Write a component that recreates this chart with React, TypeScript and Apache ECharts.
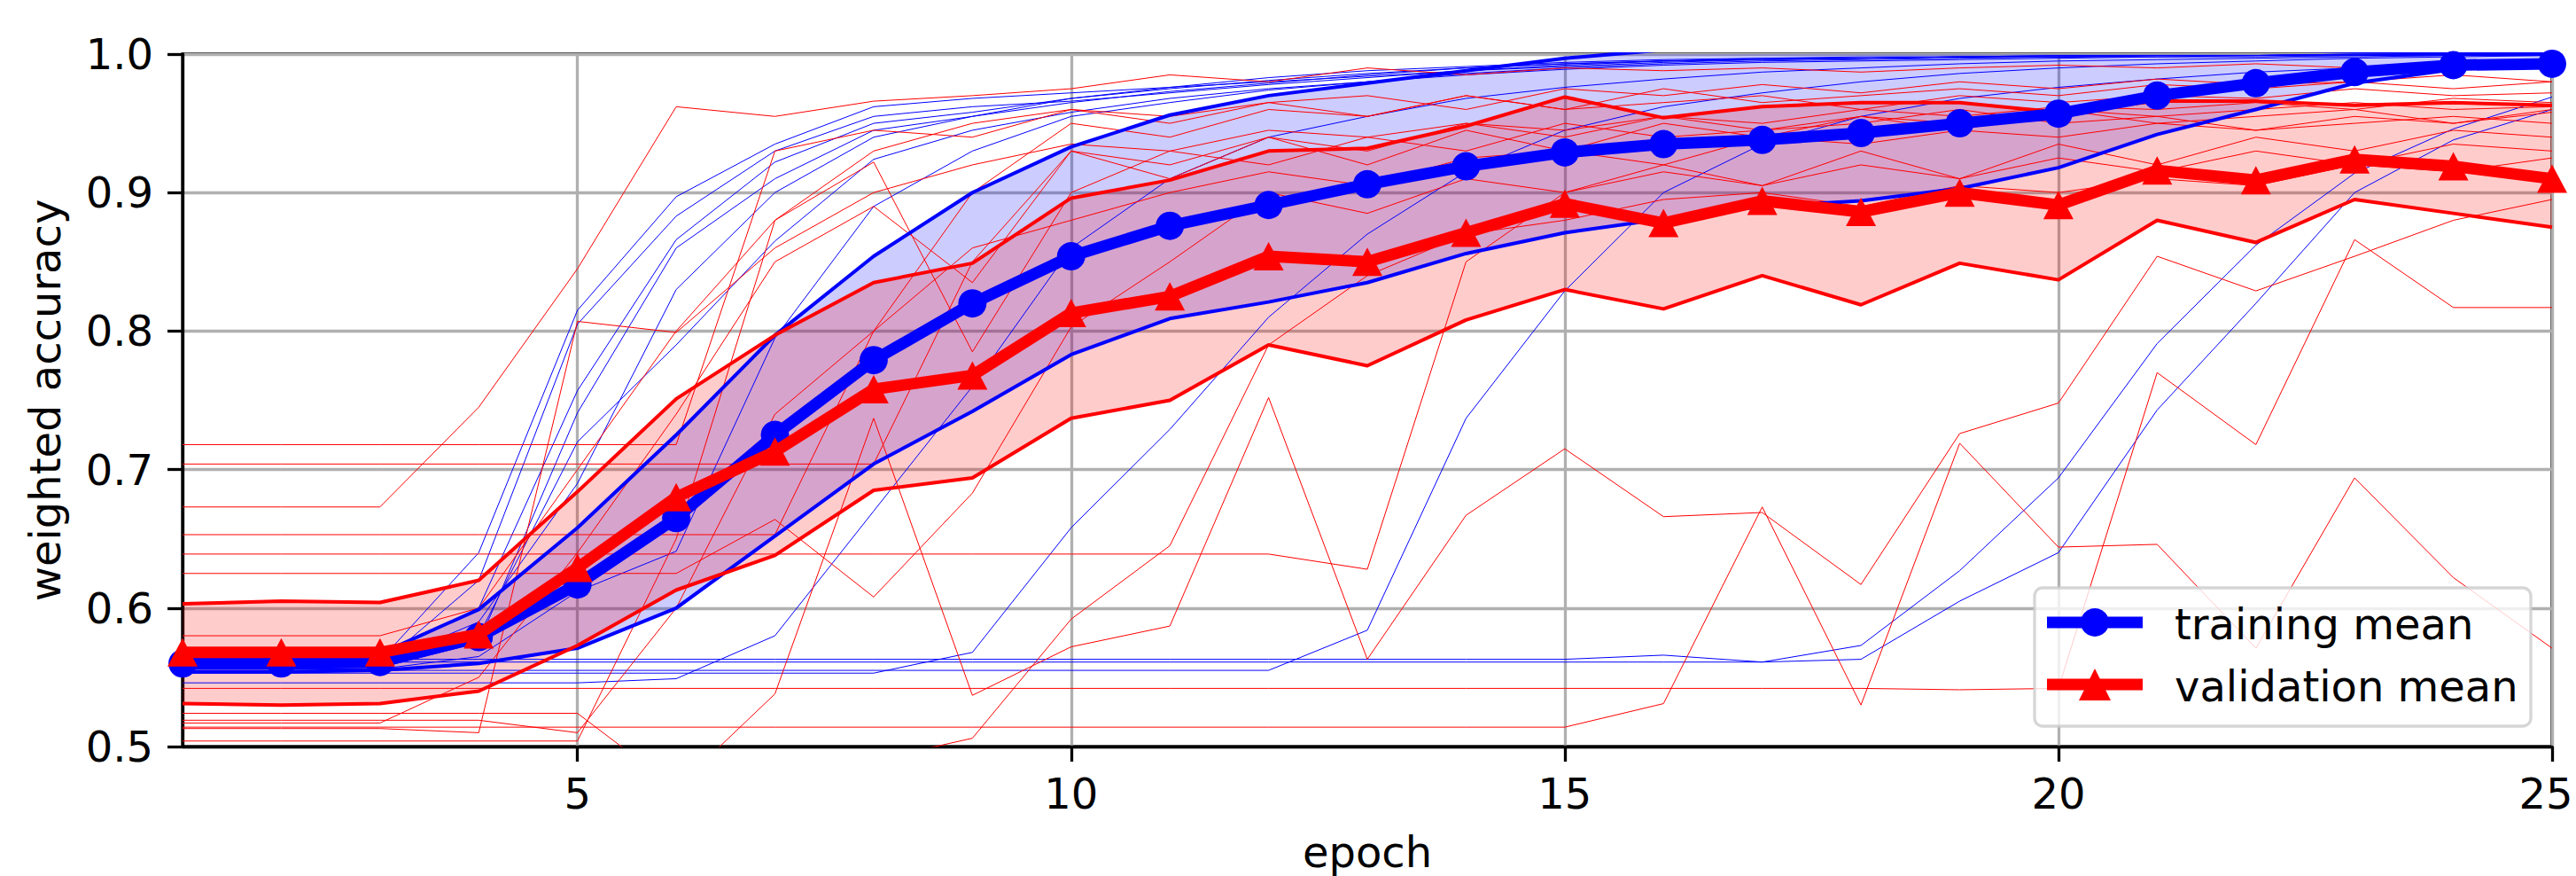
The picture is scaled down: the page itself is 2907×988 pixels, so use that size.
import React, { useEffect, useRef } from 'react';
import * as echarts from 'echarts';

const epochs = [1, 2, 3, 4, 5, 6, 7, 8, 9, 10, 11, 12, 13, 14, 15, 16, 17, 18, 19, 20, 21, 22, 23, 24, 25];
const yTicks = [0.5, 0.6, 0.7, 0.8, 0.9, 1.0];

const trainMean = [0.560, 0.560, 0.561, 0.579, 0.617, 0.665, 0.725, 0.779, 0.820, 0.854, 0.876, 0.891, 0.906, 0.919, 0.929, 0.935, 0.938, 0.943, 0.950, 0.957, 0.970, 0.979, 0.987, 0.992, 0.993];
const trainLower = [0.554, 0.554, 0.555, 0.560, 0.571, 0.600, 0.652, 0.704, 0.742, 0.783, 0.809, 0.821, 0.835, 0.856, 0.871, 0.881, 0.890, 0.894, 0.903, 0.918, 0.942, 0.960, 0.979, 0.989, 0.995];
const trainUpper = [0.566, 0.566, 0.567, 0.599, 0.658, 0.725, 0.797, 0.854, 0.900, 0.933, 0.956, 0.970, 0.979, 0.988, 0.997, 1.003, 1.004, 1.005, 1.005, 1.006, 1.005, 1.003, 1.002, 1.001, 1.000];

const valMean = [0.568, 0.568, 0.568, 0.581, 0.629, 0.680, 0.713, 0.758, 0.768, 0.813, 0.825, 0.854, 0.850, 0.871, 0.892, 0.878, 0.894, 0.886, 0.900, 0.891, 0.916, 0.909, 0.924, 0.919, 0.910];
const valLower = [0.531, 0.530, 0.531, 0.540, 0.573, 0.613, 0.638, 0.685, 0.694, 0.737, 0.750, 0.790, 0.775, 0.808, 0.830, 0.816, 0.840, 0.819, 0.849, 0.837, 0.880, 0.864, 0.895, 0.885, 0.875];
const valUpper = [0.603, 0.605, 0.604, 0.620, 0.684, 0.751, 0.797, 0.835, 0.849, 0.896, 0.909, 0.930, 0.932, 0.948, 0.969, 0.954, 0.962, 0.965, 0.965, 0.958, 0.966, 0.966, 0.963, 0.965, 0.963];

const trainRun1 = [0.562, 0.562, 0.562, 0.640, 0.815, 0.897, 0.935, 0.962, 0.968, 0.972, 0.976, 0.980, 0.984, 0.988, 0.992, 0.995, 0.997, 0.998, 0.998, 0.999, 0.999, 0.999, 1.000, 1.000, 1.000];
const trainRun2 = [0.559, 0.559, 0.559, 0.620, 0.805, 0.883, 0.930, 0.955, 0.962, 0.966, 0.972, 0.978, 0.983, 0.988, 0.991, 0.994, 0.996, 0.997, 0.998, 0.998, 0.999, 0.999, 0.999, 1.000, 1.000];
const trainRun3 = [0.565, 0.565, 0.565, 0.600, 0.757, 0.866, 0.922, 0.950, 0.958, 0.968, 0.976, 0.983, 0.988, 0.991, 0.994, 0.996, 0.997, 0.997, 0.998, 0.999, 0.999, 0.999, 1.000, 1.000, 1.000];
const trainRun4 = [0.557, 0.557, 0.557, 0.575, 0.741, 0.860, 0.910, 0.945, 0.955, 0.965, 0.973, 0.979, 0.985, 0.990, 0.993, 0.995, 0.996, 0.997, 0.998, 0.998, 0.999, 0.999, 1.000, 1.000, 1.000];
const trainRun5 = [0.560, 0.560, 0.560, 0.580, 0.720, 0.790, 0.865, 0.924, 0.945, 0.958, 0.968, 0.975, 0.980, 0.986, 0.990, 0.993, 0.995, 0.996, 0.997, 0.998, 0.998, 0.999, 0.999, 1.000, 1.000];
const trainRun6 = [0.556, 0.556, 0.556, 0.565, 0.612, 0.641, 0.795, 0.890, 0.930, 0.955, 0.965, 0.974, 0.980, 0.985, 0.989, 0.992, 0.994, 0.995, 0.996, 0.997, 0.998, 0.998, 0.999, 0.999, 1.000];
const trainRun7 = [0.546, 0.546, 0.546, 0.546, 0.546, 0.549, 0.580, 0.670, 0.760, 0.860, 0.910, 0.940, 0.955, 0.968, 0.976, 0.982, 0.987, 0.990, 0.993, 0.995, 0.996, 0.997, 0.998, 0.999, 0.999];
const trainRun8 = [0.553, 0.553, 0.553, 0.553, 0.553, 0.553, 0.553, 0.553, 0.568, 0.658, 0.729, 0.810, 0.870, 0.915, 0.945, 0.962, 0.972, 0.980, 0.986, 0.990, 0.993, 0.995, 0.997, 0.998, 0.999];
const trainRun9 = [0.555, 0.555, 0.555, 0.555, 0.555, 0.555, 0.555, 0.555, 0.555, 0.555, 0.555, 0.555, 0.584, 0.737, 0.829, 0.900, 0.935, 0.955, 0.968, 0.976, 0.982, 0.987, 0.990, 0.993, 0.995];
const trainRun10 = [0.563, 0.563, 0.563, 0.563, 0.563, 0.563, 0.563, 0.563, 0.563, 0.563, 0.563, 0.563, 0.563, 0.563, 0.563, 0.566, 0.561, 0.573, 0.627, 0.694, 0.791, 0.862, 0.914, 0.946, 0.969];
const trainRun11 = [0.561, 0.561, 0.561, 0.561, 0.561, 0.561, 0.561, 0.561, 0.561, 0.561, 0.561, 0.561, 0.561, 0.561, 0.561, 0.561, 0.561, 0.563, 0.605, 0.640, 0.743, 0.820, 0.900, 0.938, 0.960];
const trainRun12 = [0.560, 0.560, 0.560, 0.590, 0.690, 0.830, 0.900, 0.940, 0.955, 0.968, 0.975, 0.981, 0.986, 0.990, 0.993, 0.995, 0.996, 0.997, 0.998, 0.998, 0.999, 0.999, 1.000, 1.000, 1.000];

const valRun1 = [0.524, 0.524, 0.524, 0.524, 0.524, 0.470, 0.538, 0.737, 0.537, 0.572, 0.587, 0.752, 0.563, 0.667, 0.715, 0.666, 0.669, 0.617, 0.726, 0.748, 0.854, 0.829, 0.854, 0.880, 0.895];
const valRun2 = [0.542, 0.542, 0.542, 0.542, 0.542, 0.542, 0.542, 0.542, 0.542, 0.542, 0.542, 0.542, 0.542, 0.542, 0.542, 0.542, 0.542, 0.542, 0.541, 0.542, 0.770, 0.718, 0.866, 0.817, 0.817];
const valRun3 = [0.514, 0.514, 0.514, 0.514, 0.514, 0.514, 0.514, 0.514, 0.514, 0.514, 0.514, 0.514, 0.514, 0.514, 0.514, 0.531, 0.673, 0.530, 0.719, 0.644, 0.646, 0.571, 0.694, 0.622, 0.571];
const valRun4 = [0.639, 0.639, 0.639, 0.639, 0.639, 0.639, 0.639, 0.639, 0.639, 0.639, 0.639, 0.639, 0.628, 0.850, 0.900, 0.920, 0.905, 0.930, 0.910, 0.935, 0.920, 0.940, 0.930, 0.945, 0.940];
const valRun5 = [0.504, 0.504, 0.504, 0.504, 0.504, 0.650, 0.880, 0.930, 0.950, 0.960, 0.955, 0.965, 0.970, 0.960, 0.975, 0.970, 0.978, 0.972, 0.980, 0.975, 0.982, 0.978, 0.980, 0.985, 0.980];
const valRun6 = [0.519, 0.519, 0.519, 0.519, 0.510, 0.600, 0.740, 0.800, 0.860, 0.880, 0.900, 0.915, 0.905, 0.925, 0.930, 0.920, 0.940, 0.935, 0.945, 0.940, 0.950, 0.945, 0.955, 0.950, 0.960];
const valRun7 = [0.490, 0.490, 0.490, 0.490, 0.490, 0.480, 0.470, 0.490, 0.506, 0.592, 0.645, 0.790, 0.840, 0.870, 0.880, 0.895, 0.900, 0.890, 0.905, 0.900, 0.910, 0.905, 0.920, 0.915, 0.925];
const valRun8 = [0.673, 0.673, 0.673, 0.745, 0.845, 0.962, 0.955, 0.966, 0.970, 0.975, 0.985, 0.980, 0.990, 0.985, 0.990, 0.988, 0.990, 0.987, 0.990, 0.992, 0.990, 0.993, 0.990, 0.992, 0.994];
const valRun9 = [0.718, 0.718, 0.718, 0.718, 0.718, 0.718, 0.930, 0.945, 0.940, 0.960, 0.950, 0.965, 0.955, 0.970, 0.960, 0.965, 0.970, 0.960, 0.970, 0.965, 0.970, 0.968, 0.975, 0.970, 0.972];
const valRun10 = [0.704, 0.704, 0.704, 0.704, 0.704, 0.704, 0.704, 0.704, 0.850, 0.930, 0.910, 0.940, 0.920, 0.945, 0.930, 0.950, 0.940, 0.955, 0.945, 0.960, 0.950, 0.955, 0.960, 0.950, 0.958];
const valRun11 = [0.653, 0.653, 0.653, 0.653, 0.653, 0.653, 0.653, 0.800, 0.900, 0.950, 0.940, 0.960, 0.955, 0.970, 0.960, 0.975, 0.965, 0.970, 0.975, 0.970, 0.978, 0.975, 0.980, 0.975, 0.980];
const valRun12 = [0.625, 0.625, 0.625, 0.625, 0.625, 0.625, 0.664, 0.608, 0.683, 0.803, 0.850, 0.900, 0.885, 0.910, 0.900, 0.915, 0.905, 0.920, 0.910, 0.925, 0.915, 0.930, 0.920, 0.935, 0.930];
const valRun13 = [0.513, 0.513, 0.513, 0.510, 0.807, 0.799, 0.860, 0.900, 0.920, 0.935, 0.930, 0.945, 0.940, 0.950, 0.945, 0.955, 0.950, 0.960, 0.955, 0.962, 0.960, 0.965, 0.960, 0.968, 0.965];
const valRun14 = [0.517, 0.517, 0.517, 0.550, 0.640, 0.740, 0.850, 0.890, 0.835, 0.930, 0.920, 0.940, 0.930, 0.950, 0.940, 0.955, 0.945, 0.950, 0.960, 0.950, 0.955, 0.945, 0.950, 0.955, 0.950];
const valRun15 = [0.580, 0.580, 0.580, 0.600, 0.700, 0.800, 0.880, 0.922, 0.785, 0.900, 0.930, 0.920, 0.940, 0.930, 0.950, 0.940, 0.945, 0.955, 0.950, 0.960, 0.955, 0.960, 0.965, 0.960, 0.962];

const trainRuns = [trainRun1, trainRun2, trainRun3, trainRun4, trainRun5, trainRun6, trainRun7, trainRun8, trainRun9, trainRun10, trainRun11, trainRun12];
const valRuns = [valRun1, valRun2, valRun3, valRun4, valRun5, valRun6, valRun7, valRun8, valRun9, valRun10, valRun11, valRun12, valRun13, valRun14, valRun15];

const legendLabels = ['training mean', 'validation mean'];

const BLUE = '#0000ff';
const RED = '#ff0000';
const FONT = 'DejaVu Sans';

const showEveryFifth = (_index: number, value: string) => Number(value) % 5 === 0;
const lastEpoch = String(epochs[epochs.length - 1]);

function thinLine(data: number[], color: string) {
  return {
    type: 'line',
    data,
    symbol: 'none',
    silent: true,
    z: 2,
    lineStyle: { color, width: 1 },
    emphasis: { disabled: true },
  };
}

function edgeLine(data: number[], color: string) {
  return {
    type: 'line',
    data,
    symbol: 'none',
    silent: true,
    z: 3,
    lineStyle: { color, width: 4, join: 'round' },
    emphasis: { disabled: true },
  };
}

function band(lower: number[], upper: number[], color: string, stack: string) {
  return [
    {
      type: 'line',
      data: lower,
      stack,
      symbol: 'none',
      silent: true,
      z: 1,
      lineStyle: { width: 0, opacity: 0 },
      emphasis: { disabled: true },
    },
    {
      type: 'line',
      data: upper.map((u, i) => +(u - lower[i]).toFixed(4)),
      stack,
      symbol: 'none',
      silent: true,
      z: 1,
      lineStyle: { width: 0, opacity: 0 },
      areaStyle: { color, opacity: 0.2 },
      emphasis: { disabled: true },
    },
  ];
}

function buildOption() {
  const series: any[] = [
    ...band(trainLower, trainUpper, BLUE, 'trainBand'),
    ...band(valLower, valUpper, RED, 'valBand'),
    ...trainRuns.map((r) => thinLine(r, BLUE)),
    ...valRuns.map((r) => thinLine(r, RED)),
    edgeLine(trainUpper, BLUE),
    edgeLine(trainLower, BLUE),
    edgeLine(valUpper, RED),
    edgeLine(valLower, RED),
    {
      type: 'line',
      name: legendLabels[0],
      data: trainMean,
      symbol: 'circle',
      symbolSize: 32,
      showAllSymbol: true,
      silent: true,
      z: 4,
      lineStyle: { color: BLUE, width: 13, join: 'round' },
      itemStyle: { color: BLUE },
      emphasis: { disabled: true },
    },
    {
      type: 'line',
      name: legendLabels[1],
      data: valMean,
      symbol: 'triangle',
      symbolSize: [34, 32],
      showAllSymbol: true,
      silent: true,
      z: 5,
      lineStyle: { color: RED, width: 13, join: 'round' },
      itemStyle: { color: RED },
      emphasis: { disabled: true },
    },
  ];

  const textStyle = { fontSize: 48, fontFamily: FONT, color: '#000' };

  return {
    animation: false,
    backgroundColor: '#ffffff',
    grid: {
      left: 206,
      top: 61,
      width: 2674,
      height: 781,
      show: true,
      borderColor: '#000',
      borderWidth: 3.3,
      backgroundColor: 'transparent',
      containLabel: false,
      outerBoundsMode: 'none',
    },
    xAxis: {
      type: 'category',
      data: epochs.map(String),
      boundaryGap: false,
      name: 'epoch',
      nameLocation: 'middle',
      nameGap: 95,
      nameTextStyle: textStyle,
      axisLine: { show: true, lineStyle: { color: '#000', width: 3.3 } },
      axisTick: { show: true, inside: false, length: 17, interval: showEveryFifth, lineStyle: { color: '#000', width: 3.3 } },
      axisLabel: {
        show: true,
        interval: showEveryFifth,
        margin: 29,
        ...textStyle,
        formatter: (value: string) => (value === lastEpoch ? `{last|${value}}` : value),
        rich: {
          last: { fontSize: 48, fontFamily: FONT, color: '#000', padding: [0, 14, 0, 0] },
        },
      },
      splitLine: { show: true, interval: showEveryFifth, lineStyle: { color: '#b0b0b0', width: 3.3 } },
    },
    yAxis: {
      type: 'value',
      min: yTicks[0],
      max: yTicks[yTicks.length - 1],
      interval: 0.1,
      name: 'weighted accuracy',
      nameLocation: 'middle',
      nameGap: 131,
      nameRotate: 90,
      nameTextStyle: textStyle,
      axisLine: { show: true, lineStyle: { color: '#000', width: 3.3 } },
      axisTick: { show: true, inside: false, length: 17, lineStyle: { color: '#000', width: 3.3 } },
      axisLabel: { show: true, margin: 33, formatter: (v: number) => v.toFixed(1), ...textStyle },
      splitLine: { show: true, lineStyle: { color: '#b0b0b0', width: 3.3 } },
    },
    series,
    graphic: [
      {
        type: 'rect',
        z: 100,
        silent: true,
        shape: { x: 2296, y: 663, width: 560, height: 156, r: 9 },
        style: { fill: 'rgba(255,255,255,0.8)', stroke: 'rgba(204,204,204,0.8)', lineWidth: 3.3 },
      },
      {
        type: 'line',
        z: 101,
        silent: true,
        shape: { x1: 2310, y1: 702, x2: 2418, y2: 702 },
        style: { stroke: BLUE, lineWidth: 13 },
      },
      {
        type: 'circle',
        z: 102,
        silent: true,
        shape: { cx: 2364, cy: 702, r: 16 },
        style: { fill: BLUE },
      },
      {
        type: 'text',
        z: 102,
        silent: true,
        x: 2454,
        y: 704,
        style: { text: legendLabels[0], fontSize: 48, fontFamily: FONT, fill: '#000', verticalAlign: 'middle', align: 'left' },
      },
      {
        type: 'line',
        z: 101,
        silent: true,
        shape: { x1: 2310, y1: 772, x2: 2418, y2: 772 },
        style: { stroke: RED, lineWidth: 13 },
      },
      {
        type: 'polygon',
        z: 102,
        silent: true,
        shape: { points: [[2364, 754], [2346, 790], [2382, 790]] },
        style: { fill: RED },
      },
      {
        type: 'text',
        z: 102,
        silent: true,
        x: 2454,
        y: 774,
        style: { text: legendLabels[1], fontSize: 48, fontFamily: FONT, fill: '#000', verticalAlign: 'middle', align: 'left' },
      },
    ],
  };
}

export default function App() {
  const ref = useRef<HTMLDivElement>(null);
  useEffect(() => {
    document.body.style.margin = '0';
    if (!ref.current) return;
    const chart = echarts.init(ref.current, null, { renderer: 'svg' });
    chart.setOption(buildOption() as any);
    return () => {
      chart.dispose();
    };
  }, []);
  return <div ref={ref} style={{ width: 2907, height: 988, background: '#ffffff' }} />;
}
